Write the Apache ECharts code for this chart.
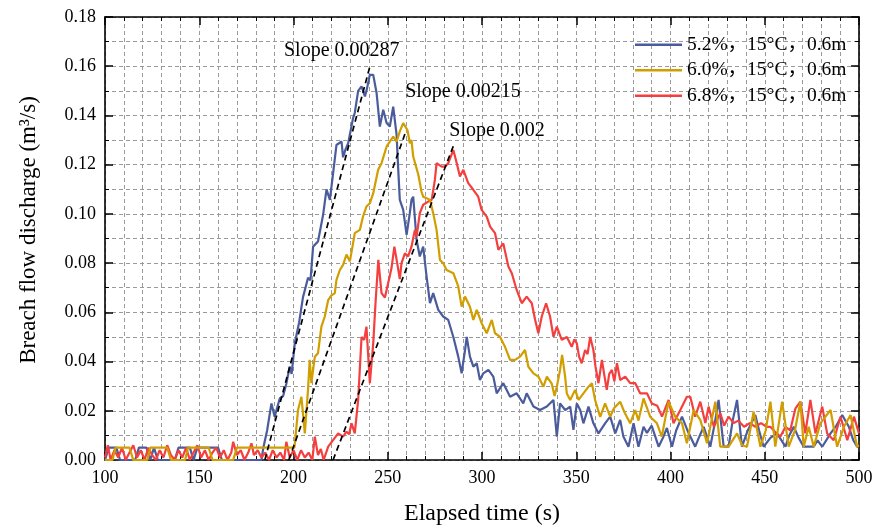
<!DOCTYPE html>
<html>
<head>
<meta charset="utf-8">
<script src="https://cdn.jsdelivr.net/npm/echarts@6/dist/echarts.min.js"></script>
<style>
  html, body { margin: 0; padding: 0; background: #fff; }
  #chart { width: 875px; height: 527px; }
</style>
</head>
<body>
<div id="chart"></div>
<script>
// Breach outflow hydrographs: [elapsed time (s), discharge (m^3/s)]
const seriesNames = ['5.2%，15°C，0.6m', '6.0%，15°C，0.6m', '6.8%，15°C，0.6m'];
const seriesColors = ['#4B5C9C', '#D19E00', '#F53F3F'];

const flow52 = [
  [100,0],[102,0.005],[106,0.005],[108,0],[116,0],[118,0.005],[122,0.005],[124,0],[126,0.005],[128,0],
  [137,0],[139,0.005],[145,0.005],[147,0],[149,0.005],[160,0.005],[162,0],[183,0],
  [184,0.005],[186,0.012],[188.3,0.023],[190,0.0176],[192.7,0.025],[194.5,0.026],[196.2,0.031],[198,0.038],
  [199,0.035],[200.7,0.0475],[203,0.056],[205,0.066],[207.7,0.074],[209,0.073],[210.4,0.0867],[213,0.0888],
  [215.7,0.0996],[217.5,0.110],[219.3,0.1057],[221,0.1165],[222.8,0.128],[225.5,0.1294],[226.3,0.123],
  [227.5,0.126],[229,0.1287],[231.6,0.1389],[232.5,0.141],[234.3,0.150],[236.1,0.1518],[237.9,0.1477],
  [239,0.151],[240.5,0.1565],[242.3,0.1565],[244.1,0.149],[245.8,0.1355],[247.6,0.1423],[249.4,0.1369],
  [251.1,0.1355],[252.9,0.1436],[254.7,0.132],[255.5,0.119],[256.4,0.1057],[258.2,0.1016],[260,0.0915],
  [261.7,0.1003],[262.6,0.1057],[263.5,0.107],[265.3,0.0894],[267,0.0827],[268.8,0.0867],[270.6,0.0745],
  [272.4,0.0637],[274.1,0.0678],[276.8,0.061],[279.4,0.0583],[282.1,0.0569],[284.8,0.050],[287.4,0.042],
  [289.2,0.0352],[291,0.0447],[291.9,0.050],[293.6,0.042],[295.4,0.0379],[297.2,0.0393],[298.9,0.0325],
  [300.7,0.0352],[303.4,0.0366],[306,0.0339],[307.8,0.0271],[311.3,0.0312],[314.9,0.0257],[318.4,0.0271],
  [321.9,0.023],[323.7,0.0271],[327.3,0.0217],[330.8,0.0203],[334.4,0.0217],[337.9,0.0244],[339.7,0.0095],
  [341.4,0.023],[344.1,0.0203],[346.8,0.0217],[348.5,0.0122],[350.3,0.023],[352.1,0.0203],[353.8,0.0149],
  [356.5,0.0217],[359.1,0.0149],[361.8,0.0108],[365.3,0.0149],[368,0.0176],[370.7,0.0108],[373.3,0.0163],
  [375,0.0095],[377.7,0.0054],[380.4,0.0149],[383,0.0054],[385.7,0.0135],[387.5,0.011],[390,0.014],
  [393.7,0.0054],[396,0.009],[398.1,0.013],[400.8,0.0054],[403,0.012],[406.1,0.0176],[409,0.012],
  [413.1,0.0054],[415,0.009],[417.6,0.0135],[421.1,0.0054],[423.5,0.015],[425.5,0.0244],[428.2,0.0054],
  [430.8,0.0054],[433,0.016],[435.3,0.0244],[437.9,0.0054],[441,0.012],[445,0.0183],[447,0.012],
  [449.4,0.0054],[453,0.009],[456.5,0.0108],[461,0.0054],[463,0.01],[465.4,0.0135],[468,0.009],
  [470.7,0.0054],[476,0.0054],[478,0.008],[480.5,0.0054],[484.9,0.0108],[488,0.014],[491.1,0.0183],
  [494.6,0.0135],[497,0.008],[499,0.0054],[500,0.0054]
];

const flow60 = [
  [100,0],[104,0],[105.5,0.005],[113,0.005],[115,0],[122.5,0],[124,0.005],[133,0.005],[135,0],[142.5,0],
  [144,0.005],[155,0.005],[157,0],[168,0],[170,0.005],[200.5,0.005],
  [202.4,0.0203],[204.2,0.0257],[206,0.0108],[207.7,0.0285],[208.6,0.0407],[209.5,0.0312],[211.3,0.042],
  [213,0.0434],[214.8,0.0542],[216.6,0.0583],[218.4,0.065],[220,0.0668],[221.9,0.0678],[222.8,0.0732],
  [224.6,0.0772],[226.3,0.0793],[228.1,0.0835],[229.9,0.0807],[231.6,0.088],[232.5,0.0922],[235.2,0.0935],
  [236.9,0.099],[238.7,0.103],[240.5,0.1043],[242.3,0.1084],[244.9,0.1179],[246.7,0.1206],[249.4,0.1274],
  [251.1,0.1294],[252.9,0.1314],[254.7,0.1294],[256.4,0.1335],[258.2,0.1369],[259.1,0.1375],[260.5,0.134],
  [261.7,0.1287],[262.6,0.130],[263.5,0.1233],[264.4,0.1233],[266.2,0.116],[267.9,0.109],[268.8,0.107],
  [270.6,0.1064],[272.4,0.1057],[274.1,0.1003],[275.9,0.0935],[277.7,0.0813],[279.4,0.080],[281.2,0.0772],
  [284.8,0.0759],[287.4,0.0705],[289.2,0.0623],[291,0.0664],[293.6,0.0623],[295.4,0.0569],[297.2,0.061],
  [299.8,0.0556],[302.5,0.0515],[305.2,0.0569],[306.9,0.0515],[309.6,0.050],[312.2,0.046],[314.9,0.0407],
  [317.5,0.0407],[320.2,0.042],[322.8,0.0447],[324.6,0.0379],[327.3,0.0352],[329.9,0.0339],[332.6,0.0298],
  [334.4,0.0339],[337,0.031],[338.5,0.026],[339.7,0.0298],[341.4,0.0366],[342.5,0.0427],[344.1,0.0339],
  [345,0.027],[346.8,0.0244],[349.4,0.0285],[351.2,0.0244],[353.8,0.0271],[356.5,0.0298],[358.3,0.0312],
  [360,0.0244],[362.7,0.0175],[365.3,0.023],[368,0.0176],[370,0.021],[373.3,0.0237],[375.5,0.0195],
  [378.6,0.0149],[381.3,0.0203],[383,0.016],[385.7,0.025],[389.2,0.0176],[392.8,0.0149],[395.4,0.0095],
  [397,0.016],[399,0.0237],[402.5,0.0176],[406.1,0.0149],[408.7,0.0068],[412.3,0.0203],[415.8,0.0163],
  [419.4,0.0068],[421.5,0.015],[423.8,0.0237],[426.4,0.0054],[430.8,0.0054],[435.3,0.0108],[438,0.006],
  [440.6,0.0054],[444.1,0.0196],[447.7,0.0054],[450.5,0.012],[453,0.0237],[455.6,0.0054],[459.2,0.0237],
  [462.7,0.0054],[466,0.012],[468.9,0.0237],[470.7,0.0054],[473.3,0.0135],[476,0.0054],[479.5,0.0149],
  [484.9,0.0203],[488.4,0.0054],[492,0.0135],[495.5,0.0183],[499,0.0054],[500,0.006]
];

const flow68 = [
  [100,0.001],[101.5,0.006],[103,0],[105,0.004],[107,0.001],[109,0.005],[111,0],[113,0.003],[115,0.006],
  [117,0.001],[119,0.004],[121,0],[123,0.005],[125,0.002],[127,0],[129,0.004],[131,0.001],[133,0.006],
  [135,0.002],[137,0],[139,0.004],[141,0.001],[143,0.005],[145,0],[147,0.003],[149,0.006],[151,0.001],
  [153,0.004],[155,0],[157,0.003],[159,0.005],[161,0.001],[163,0.004],[165,0],[167,0.003],[168,0.0074],
  [170,0.002],[172,0.004],[174,0],[176,0.003],[177.7,0.0068],[179,0.002],[181,0.004],[183,0.001],
  [185,0.003],[187,0],[189,0.004],[191,0.001],[193,0.003],[195,0],[196.2,0.0074],[198,0.001],[200,0.004],
  [202,0],[204,0.004],[206,0.001],[208,0.003],[210,0],[211.3,0.0095],[213,0.002],[214.5,0.0045],[216,0],
  [218.4,0.0054],[221,0.0081],[223.7,0.0108],[226.3,0.0095],[228.1,0.0115],[229.5,0.0105],[230.8,0.0149],
  [232.5,0.0108],[234.3,0.0244],[236.1,0.050],[237.5,0.0488],[238.7,0.0542],[240.5,0.0312],[242.3,0.0474],
  [243.5,0.0637],[245,0.0813],[246.7,0.0678],[248.5,0.066],[250.2,0.0718],[252,0.078],[253.5,0.0867],
  [255,0.080],[256.4,0.0735],[257.3,0.080],[259.1,0.084],[260.8,0.0827],[262.6,0.0867],[264.4,0.0935],
  [265.3,0.0908],[267,0.1003],[268.8,0.1037],[271.5,0.105],[273.3,0.1057],[275,0.1138],[275.9,0.1206],
  [278.6,0.1192],[280.3,0.1192],[282.1,0.1206],[284.8,0.126],[286.6,0.1206],[288.3,0.1152],[290.1,0.1179],
  [292.7,0.1125],[295.4,0.1098],[298,0.107],[299.8,0.1016],[302.5,0.0989],[304.3,0.0948],[306.9,0.0922],
  [308.7,0.0854],[311.3,0.088],[314,0.0786],[315.8,0.0759],[318.4,0.0691],[321.1,0.0637],[323.7,0.0664],
  [326.4,0.0637],[328.2,0.0569],[329.9,0.0515],[331.7,0.0583],[334,0.0637],[336.1,0.0583],[337.9,0.050],
  [339.7,0.0542],[342.3,0.0488],[345,0.050],[347.6,0.046],[349,0.049],[350.3,0.0474],[351.5,0.042],
  [352.9,0.0393],[354.7,0.0447],[356,0.043],[357.4,0.050],[359.1,0.0447],[360.2,0.038],[361.8,0.0312],
  [363.6,0.0407],[365,0.034],[366.2,0.0285],[367.5,0.035],[368.9,0.0366],[370.2,0.032],[371.6,0.0393],
  [373.3,0.0325],[376,0.0339],[378.6,0.0312],[381.3,0.0312],[383.9,0.0271],[387.5,0.0271],[390.1,0.023],
  [393,0.022],[395.5,0.0176],[399,0.0244],[401.6,0.0149],[405.2,0.0203],[408.7,0.0257],[410.5,0.0257],
  [413.1,0.0176],[415.8,0.0237],[418.5,0.015],[420.2,0.0217],[423,0.0135],[426.4,0.019],[428.5,0.014],
  [430.8,0.0176],[433.5,0.015],[436,0.016],[439,0.0135],[442,0.015],[445,0.0135],[448,0.015],[451,0.0135],
  [453,0.0135],[456,0.011],[458.3,0.0095],[461,0.0135],[463.5,0.012],[466.3,0.021],[468.9,0.0237],
  [471.5,0.0108],[474.2,0.0244],[476.9,0.0108],[480.5,0.0217],[483.1,0.0108],[486.6,0.008],[490.2,0.0176],
  [493.8,0.008],[497.3,0.0176],[500,0.0108]
];

// Rising-limb fits: slope (m^3/s per s), onset time and end time of each dashed line
const fitSlopes = [0.00287, 0.00215, 0.002];
const fitOnsets = [184.8, 197.5, 221.0];
const fitEnds = [240.5, 259.5, 284.8];
const fitLabels = ['Slope 0.00287', 'Slope 0.00215', 'Slope 0.002'];
const fitLabelAnchors = [[225.6, 0.1663], [289.9, 0.1496], [308.0, 0.1337]];

// Axis ticks
const xTicks = { min: 100, max: 500, step: 50 };
const yTicks = { min: 0, max: 0.18, step: 0.02 };

const serif = '"Liberation Serif", "Times New Roman", "Noto Sans CJK SC", serif';
const gridDash = { color: '#9a9a9a', width: 1, type: [4, 3] };

const chart = echarts.init(document.getElementById('chart'), null, { renderer: 'canvas' });

const baseX = {
  type: 'value', min: xTicks.min, max: xTicks.max, interval: xTicks.step,
  axisLine: { show: true, onZero: false, lineStyle: { color: '#000', width: 1.6 } },
  axisTick: { show: true, inside: true, length: 8, lineStyle: { color: '#000', width: 1.5 } },
  minorTick: { show: true, splitNumber: 5, length: 4, lineStyle: { color: '#000', width: 1 } }
};
const baseY = {
  type: 'value', min: yTicks.min, max: yTicks.max, interval: yTicks.step,
  axisLine: { show: true, onZero: false, lineStyle: { color: '#000', width: 1.6 } },
  axisTick: { show: true, inside: true, length: 8, lineStyle: { color: '#000', width: 1.5 } },
  minorTick: { show: true, splitNumber: 2, length: 4, lineStyle: { color: '#000', width: 1 } }
};

const flows = [flow52, flow60, flow68];
// draw order: 5.2 %, 6.8 %, 6.0 % (the 6.0 % curve sits on top)
const drawOrder = [0, 2, 1];
const curveSeries = drawOrder.map((i, k) => ({
  name: seriesNames[i],
  type: 'line',
  data: flows[i],
  symbol: 'none',
  showSymbol: false,
  lineStyle: { color: seriesColors[i], width: 2.2 },
  itemStyle: { color: seriesColors[i] },
  z: 3 + k,
  animation: false
}));

const fitSeries = fitSlopes.map((s, i) => ({
  type: 'line',
  data: [[fitOnsets[i], 0], [fitEnds[i], s * (fitEnds[i] - fitOnsets[i])]],
  symbol: 'none',
  silent: true,
  lineStyle: { color: '#000', width: 1.7, type: [6, 4] },
  z: 10,
  animation: false
}));

chart.setOption({
  backgroundColor: '#fff',
  animation: false,
  grid: { left: 105, right: 16, top: 17, bottom: 67, containLabel: false, outerBoundsMode: 'none' },
  legend: {
    data: seriesNames.map(n => ({ name: n, icon: 'rect' })),
    orient: 'vertical',
    left: 635, top: 35, padding: 0,
    itemWidth: 47, itemHeight: 2.5, itemGap: 6,
    textStyle: { fontFamily: serif, fontSize: 19.5, color: '#000', lineHeight: 19 },
    backgroundColor: 'transparent'
  },
  xAxis: [
    Object.assign({}, baseX, {
      position: 'bottom',
      name: 'Elapsed time (s)', nameLocation: 'middle', nameGap: 42,
      nameTextStyle: { fontFamily: serif, fontSize: 24, color: '#000' },
      axisLabel: { color: '#000', fontFamily: serif, fontSize: 18, margin: 9 },
      splitLine: { show: true, lineStyle: gridDash },
      minorSplitLine: { show: true, lineStyle: gridDash }
    }),
    Object.assign({}, baseX, {
      position: 'top',
      axisLabel: { show: false },
      splitLine: { show: false }, minorSplitLine: { show: false }
    })
  ],
  yAxis: [
    Object.assign({}, baseY, {
      position: 'left',
      axisLabel: { color: '#000', fontFamily: serif, fontSize: 18, margin: 9, formatter: v => v.toFixed(2) },
      splitLine: { show: true, lineStyle: gridDash },
      minorSplitLine: { show: true, lineStyle: gridDash }
    }),
    Object.assign({}, baseY, {
      position: 'right',
      axisLabel: { show: false },
      splitLine: { show: false }, minorSplitLine: { show: false }
    })
  ],
  series: curveSeries.concat(fitSeries)
});

// Text placed after layout: y-axis title and the slope annotations at data coordinates
const notes = fitLabels.map((t, i) => {
  const p = chart.convertToPixel({ xAxisIndex: 0, yAxisIndex: 0 }, fitLabelAnchors[i]);
  return {
    type: 'text', x: p[0], y: p[1], silent: true, z: 20,
    style: { text: t, font: '20px ' + serif, fill: '#000', align: 'center', verticalAlign: 'middle' }
  };
});
chart.setOption({
  graphic: [{
    type: 'text', x: 29, y: 230, rotation: Math.PI / 2, silent: true,
    style: {
      text: 'Breach flow discharge (m³/s)', font: '23px ' + serif, fill: '#000',
      align: 'center', verticalAlign: 'middle'
    }
  }].concat(notes)
});
</script>
</body>
</html>
